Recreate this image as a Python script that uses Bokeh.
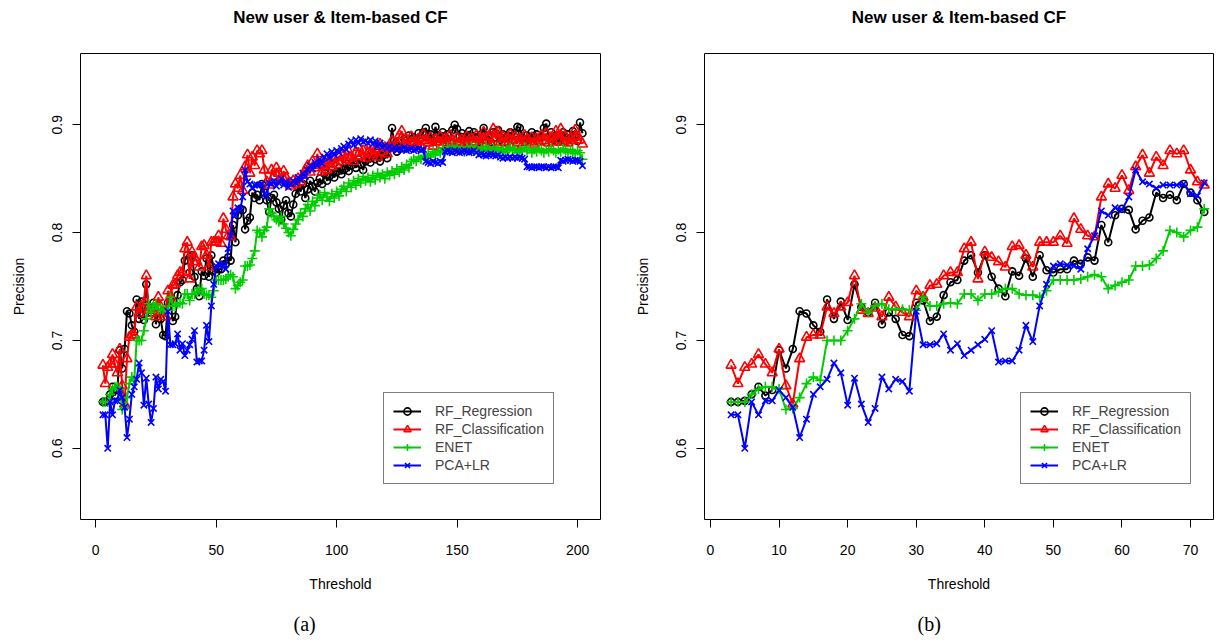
from bokeh.plotting import figure
from bokeh.layouts import row
from bokeh.models import FixedTicker, Legend, LegendItem, Title, Range1d
from bokeh.embed import file_html
from bokeh.resources import INLINE

# ---------------- data ----------------
thr_b = list(range(3, 73))
thr_a = list(range(3, 203))

rf_reg_b = [.643, .643, .644, .650, .657, .649, .654, .691, .674, .692, .727, .725, .714, .708, .738, .720, .736, .719, .752,
            .731, .726, .735, .715, .726, .720, .705, .704, .735, .737, .718, .722, .742, .754, .756, .774, .779, .763, .779, .759, .748, .741, .764,
            .760, .776, .759, .779, .765, .763, .766, .766, .774, .771, .777, .774, .807, .791, .816, .822, .821, .803, .811, .814, .837, .832, .835, .830, .845, .837, .830, .819]
rf_cls_b = [.677, .660, .675, .678, .687, .678, .670, .692, .658, .641, .683, .703, .705, .705, .731, .725, .731, .735, .760, .728, .725, .730,
            .722, .740, .731, .726, .722, .746, .740, .751, .752, .760, .763, .763, .785, .791, .757, .782, .777, .773, .768, .787,
            .788, .779, .768, .791, .791, .791, .797, .790, .813, .803, .797, .796, .833, .845, .841, .853, .839, .861, .872, .855, .870, .862, .876, .873, .876, .858, .847, .844]
enet_b = [.643, .643, .643, .650, .655, .657, .657, .655, .636, .637, .647, .660, .666, .663, .700, .700, .700, .709, .720,
          .734, .726, .732, .734, .729, .729, .729, .728, .728, .740, .732, .732, .734, .735, .734, .743, .743, .737, .743, .743, .745, .748, .748,
          .743, .742, .742, .740, .746, .756, .756, .756, .756, .757, .759, .761, .759, .748, .751, .754, .756, .769, .769, .770, .776, .783, .802, .800, .796, .802, .805, .822]
pca_b = [.631, .631, .600, .643, .631, .644, .644, .654, .647, .638, .610, .627, .650, .657, .664, .679, .670, .640, .665, .641, .624, .637, .666, .655, .664, .662, .653,
         .727, .696, .696, .697, .706, .691, .697, .686, .691, .696, .701, .709, .680, .681, .681,
         .691, .714, .699, .732, .752, .769, .771, .770, .769, .766, .785, .797, .820, .816, .823, .821, .833, .858, .847, .845, .841, .844, .844, .844, .845, .836, .834, .846]

# panel (a): thresholds 73..202 (thresholds 3..72 coincide with panel (b))
rf_reg_a_tail = [.832, .835, .828, .822, .812, .825, .830, .818, .815, .826,
                 .836, .842, .838, .845, .832, .840, .848, .843, .838, .846,
                 .850, .845, .855, .848, .852, .858, .851, .856, .860, .854,
                 .858, .864, .857, .862, .866, .860, .868, .863, .858, .866,
                 .870, .865, .872, .868, .874, .866, .871, .876, .869, .878,
                 .897, .880, .875, .884, .878, .887, .882, .890, .884, .888,
                 .886, .892, .887, .893, .897, .889, .891, .884, .898, .890,
                 .887, .893, .886, .891, .884, .895, .900, .896, .889, .892,
                 .885, .890, .894, .887, .893, .888, .884, .891, .897, .886,
                 .890, .884, .893, .888, .895, .886, .891, .884, .889, .893,
                 .886, .892, .898, .897, .888, .884, .890, .886, .893, .887,
                 .891, .885, .889, .897, .901, .888, .893, .886, .890, .884,
                 .888, .893, .885, .891, .887, .894, .889, .885, .902, .892]
rf_cls_a_tail = [.858, .852, .860, .855, .849, .857, .851, .846, .843, .848,
                 .845, .850, .847, .853, .858, .862, .856, .866, .860, .873,
                 .862, .856, .864, .858, .867, .861, .869, .863, .871, .866,
                 .872, .868, .875, .870, .866, .874, .879, .871, .876, .869,
                 .874, .880, .872, .877, .870, .882, .875, .879, .873, .878,
                 .885, .879, .883, .890, .894, .881, .886, .880, .889, .884,
                 .882, .887, .880, .891, .885, .883, .888, .880, .886, .884,
                 .889, .881, .887, .883, .890, .885, .880, .888, .884, .886,
                 .883, .889, .881, .887, .884, .890, .882, .886, .893, .885,
                 .888, .882, .896, .887, .893, .884, .889, .883, .887, .891,
                 .885, .889, .883, .887, .881, .890, .886, .884, .888, .882,
                 .887, .884, .890, .885, .892, .883, .888, .884, .894, .886,
                 .896, .884, .889, .883, .887, .885, .895, .889, .886, .882]
enet_a_tail = [.818, .815, .812, .810, .815, .808, .804, .800, .797, .803,
               .808, .812, .818, .815, .822, .826, .820, .829, .825, .832,
               .835, .830, .837, .833, .829, .836, .832, .838, .834, .840,
               .843, .838, .846, .842, .848, .844, .850, .846, .852, .848,
               .851, .847, .853, .849, .855, .851, .854, .850, .856, .853,
               .857, .854, .859, .856, .861, .858, .863, .860, .866, .868,
               .866, .870, .868, .871, .869, .873, .870, .875, .872, .876,
               .874, .878, .875, .879, .876, .880, .877, .879, .876, .878,
               .875, .879, .876, .880, .877, .879, .875, .878, .876, .880,
               .877, .874, .878, .876, .879, .875, .878, .874, .877, .879,
               .876, .878, .874, .877, .875, .879, .876, .878, .874, .877,
               .875, .878, .876, .874, .877, .875, .878, .876, .874, .877,
               .875, .878, .876, .874, .877, .875, .873, .876, .874, .868]
pca_a_tail = [.845, .848, .843, .846, .850, .844, .847, .842, .845, .848,
              .846, .851, .849, .855, .852, .858, .862, .859, .865, .862,
              .868, .864, .870, .873, .869, .875, .872, .876, .874, .878,
              .880, .877, .882, .885, .881, .886, .883, .887, .884, .885,
              .883, .886, .882, .885, .880, .883, .879, .881, .878, .880,
              .877, .879, .876, .878, .877, .879, .876, .877, .878, .876,
              .877, .878, .876, .877, .866, .865, .864, .866, .865, .864,
              .866, .865, .875, .876, .875, .874, .876, .875, .874, .875,
              .876, .875, .874, .875, .876, .874, .872, .873, .872, .871,
              .872, .873, .872, .871, .872, .870, .869, .870, .869, .870,
              .869, .870, .869, .870, .869, .868, .861, .861, .860, .861,
              .861, .860, .861, .861, .860, .861, .860, .861, .861, .860,
              .867, .866, .867, .868, .867, .866, .867, .867, .866, .862]

rf_reg_a = rf_reg_b + rf_reg_a_tail
rf_cls_a = rf_cls_b + rf_cls_a_tail
enet_a = enet_b + enet_a_tail
pca_a = pca_b + pca_a_tail

series_names = ["RF_Regression", "RF_Classification", "ENET", "PCA+LR"]
y_ticks = [0.6, 0.7, 0.8, 0.9]
x_ticks_a = [0, 50, 100, 150, 200]
x_ticks_b = [0, 10, 20, 30, 40, 50, 60, 70]
title_text = "New user & Item-based CF"

# ---------------- styles ----------------
colors = ["#000000", "#FF0000", "#00CD00", "#0000FF"]
markers = ["circle", "triangle", "cross", "x"]
msizes = [7, 10, 10, 9]
FONT = "Liberation Sans"


def make_panel(x, ys, xr, xticks, caption, width, bl, br, leg_loc, cap_offset):
    p = figure(width=width, height=640, output_backend="svg", toolbar_location=None,
               x_range=Range1d(*xr), y_range=Range1d(0.534, 0.966),
               min_border_left=bl, min_border_right=br, min_border_top=53, min_border_bottom=121)
    p.title.visible = False
    # spacer (closest to frame), then the title
    p.add_layout(Title(text=" ", text_font_size="1px", standoff=24), "above")
    p.add_layout(Title(text=title_text, align="center", text_font=FONT, text_font_size="17px",
                       text_font_style="bold", text_color="black", standoff=0), "above")
    p.xgrid.visible = False
    p.ygrid.visible = False
    p.outline_line_color = "black"
    p.outline_line_width = 1
    p.background_fill_color = "white"
    p.border_fill_color = "white"

    for ax in (p.xaxis[0], p.yaxis[0]):
        ax.axis_line_color = None
        ax.major_tick_out = 8
        ax.major_tick_in = 0
        ax.minor_tick_line_color = None
        ax.major_tick_line_color = "black"
        ax.major_label_text_font = FONT
        ax.major_label_text_font_size = "14px"
        ax.major_label_text_color = "black"
        ax.axis_label_text_font = FONT
        ax.axis_label_text_font_size = "14px"
        ax.axis_label_text_font_style = "normal"
        ax.axis_label_text_color = "black"
    p.xaxis[0].ticker = FixedTicker(ticks=xticks)
    p.yaxis[0].ticker = FixedTicker(ticks=y_ticks)
    p.xaxis[0].axis_label = "Threshold"
    p.yaxis[0].axis_label = "Precision"
    p.yaxis[0].major_label_orientation = "vertical"
    p.xaxis[0].major_label_standoff = 17
    p.xaxis[0].axis_label_standoff = 18
    p.yaxis[0].major_label_standoff = 10
    p.yaxis[0].axis_label_standoff = 23

    items = []
    for name, y, c, m, s in zip(series_names, ys, colors, markers, msizes):
        lr = p.line(x, y, line_color=c, line_width=2)
        sr = p.scatter(x, y, marker=m, size=s, line_color=c, fill_color=None, line_width=1.6)
        items.append(LegendItem(label=name, renderers=[lr, sr]))
    leg = Legend(items=items, location=leg_loc, label_text_font=FONT, label_text_font_size="14px",
                 glyph_width=28, glyph_height=18, label_height=18, label_standoff=14,
                 spacing=0, padding=9, margin=0, border_line_color="black", border_line_width=1,
                 background_fill_color="white", background_fill_alpha=1.0)
    p.add_layout(leg, "center")

    # spacer below the axis, then the caption
    p.add_layout(Title(text=" ", text_font_size="1px", standoff=13), "below")
    p.add_layout(Title(text=caption, align="left", offset=cap_offset, text_font="Liberation Serif",
                       text_font_size="20px", text_font_style="normal", text_color="black",
                       standoff=0), "below")
    return p


pa = make_panel(thr_a, [rf_reg_a, rf_cls_a, enet_a, pca_a], (-6.3, 209.5), x_ticks_a, "(a)",
                628, 80, 28, (303, 35), 213)
pb = make_panel(thr_b, [rf_reg_b, rf_cls_b, enet_b, pca_b], (-0.875, 73.35), x_ticks_b, "(b)",
                588, 76, 3, (316, 35), 213)

layout = row(pa, pb)
open("out.html", "w").write(file_html(layout, INLINE))
